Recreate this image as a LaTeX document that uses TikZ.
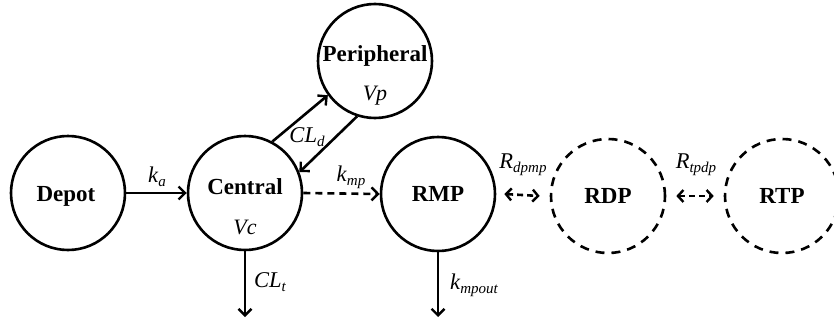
\documentclass[tikz,border=0pt]{standalone}
\usepackage{fontspec}
\setmainfont{Liberation Serif}
\usetikzlibrary{arrows.meta}
\newcommand\lbl[2]{\textit{#1}\raisebox{-0.35ex}{\fontsize{15}{15}\selectfont\itshape #2}}
\begin{document}
\begin{tikzpicture}[x=1pt,y=-1pt,
  comp/.style={circle,draw,line width=2.6pt,minimum size=114pt,inner sep=0pt},
  dcomp/.style={comp,dash pattern=on 9pt off 7pt},
  cname/.style={font=\fontsize{23}{25}\selectfont\bfseries},
  vlab/.style={font=\fontsize{22}{24}\selectfont\itshape},
  rate/.style={font=\fontsize{22.5}{24}\selectfont},
  flow/.style={line width=2.6pt,-{Straight Barb[length=6.5pt,width=13pt,line width=2.4pt]}},
  dflow/.style={flow,dash pattern=on 7pt off 5pt},
  dboth/.style={line width=2.6pt,dash pattern=on 6pt off 4pt,{Straight Barb[length=5.5pt,width=12pt,line width=2.4pt]}-{Straight Barb[length=5.5pt,width=12pt,line width=2.4pt]}}]
\useasboundingbox (0,0) rectangle (834,321);
\node[comp] (depot) at (68,193) {};
\node[comp] (central) at (245,193) {};
\node[comp] (periph) at (375,61) {};
\node[comp] (rmp) at (438,194) {};
\node[dcomp] (rdp) at (608,196) {};
\node[dcomp] (rtp) at (782,196) {};
\node[cname] (tdepot) at (66,196) {Depot};
\node[cname] (tcentral) at (245,187) {Central};
\node[vlab] (vc) at (245,227) {Vc};
\node[cname] (tperiph) at (375,56) {Peripheral};
\node[vlab] (vp) at (375,96) {Vp};
\node[cname] (trmp) at (438,194) {RMP};
\node[cname] (trdp) at (608,196) {RDP};
\node[cname] (trtp) at (782,196) {RTP};
\coordinate (outc) at (245,317);
\coordinate (outr) at (438,317);
\draw[flow] (depot.east) -- (central.west);
\draw[flow] (central.62) -- (periph.216);
\draw[flow] (periph.252) -- (central.21);
\draw[dflow] (central.east) -- (rmp.west);
\draw[dboth] ([xshift=8pt]rmp.east) -- ([xshift=-10pt]rdp.west);
\draw[dboth] ([xshift=10pt]rdp.east) -- ([xshift=-10pt]rtp.west);
\draw[flow] (central.south) -- (outc);
\draw[flow] (rmp.south) -- (outr);
\node[rate] (ka) at (157,177) {\lbl{k}{a}};
\node[rate] (cld) at (307,137) {\lbl{CL}{d}};
\node[rate] (kmp) at (351,177) {\lbl{k}{mp}};
\node[rate] (clt) at (270,282) {\lbl{CL}{t}};
\node[rate] (kout) at (474,285) {\lbl{k}{mpout}};
\node[rate] (rdpmp) at (523,165) {\lbl{R}{dpmp}};
\node[rate] (rtpdp) at (696,165) {\lbl{R}{tpdp}};
\end{tikzpicture}
\end{document}
